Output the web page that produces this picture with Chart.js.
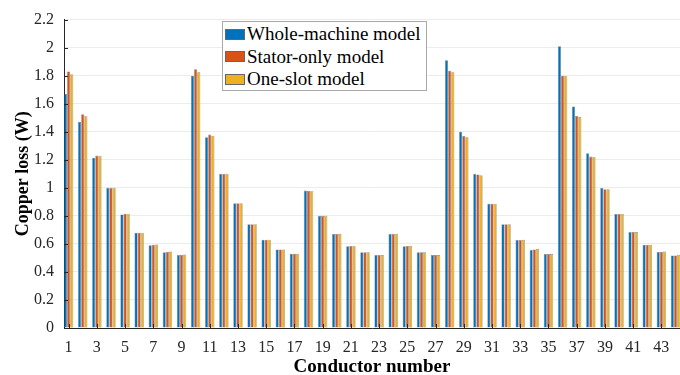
<!DOCTYPE html>
<html>
<head>
<meta charset="utf-8">
<script src="https://cdn.jsdelivr.net/npm/chart.js@4/dist/chart.umd.min.js"></script>
<style>
  html, body { margin: 0; padding: 0; background: #fff; overflow: hidden; }
  #wrap { position: relative; width: 680px; height: 375px; }
  #legend {
    position: absolute; left: 222px; top: 21px; width: 205px; height: 70px;
    border: 1px solid #a8a8a8; background: #fff; box-sizing: border-box;
    font-family: "Liberation Serif", "Times New Roman", serif; font-size: 19px; color: #000;
    padding: 1px 0 0 2px;
  }
  .item { display: flex; align-items: center; height: 22.5px; line-height: 22px; white-space: nowrap; }
  .patch { width: 20px; height: 11px; box-sizing: border-box; border: 1px solid #666; margin-right: 2px; flex: none; }
</style>
</head>
<body>
<div id="wrap">
  <canvas id="c" width="680" height="375"></canvas>
  <div id="legend"></div>
</div>
<script>
const conductors = [1,2,3,4,5,6,7,8,9,10,11,12,13,14,15,16,17,18,19,20,21,22,23,24,25,26,27,28,29,30,31,32,33,34,35,36,37,38,39,40,41,42,43,44];
const xTickLabels = [1,3,5,7,9,11,13,15,17,19,21,23,25,27,29,31,33,35,37,39,41,43];
const yTickLabels = [0,0.2,0.4,0.6,0.8,1,1.2,1.4,1.6,1.8,2,2.2];
const seriesNames = ["Whole-machine model", "Stator-only model", "One-slot model"];
const wholeMachine = [1.67,1.47,1.215,1.00,0.81,0.68,0.59,0.54,0.52, 1.80,1.36,1.10,0.89,0.74,0.63,0.56,0.53, 0.98,0.80,0.67,0.583,0.54,0.52,0.672,0.583,0.54,0.52, 1.91,1.40,1.10,0.887,0.74,0.628,0.558,0.527, 2.01,1.58,1.247,0.998,0.814,0.684,0.594,0.542,0.518];
const statorOnly   = [1.83,1.525,1.23,1.00,0.815,0.68,0.594,0.542,0.522, 1.845,1.38,1.10,0.89,0.74,0.63,0.56,0.53, 0.977,0.80,0.67,0.585,0.54,0.52,0.672,0.585,0.54,0.52, 1.836,1.37,1.095,0.887,0.74,0.628,0.56,0.527, 1.80,1.512,1.223,0.99,0.814,0.684,0.594,0.542,0.518];
const oneSlot      = [1.81,1.51,1.228,1.00,0.815,0.68,0.595,0.545,0.525, 1.824,1.37,1.10,0.89,0.74,0.63,0.56,0.53, 0.975,0.80,0.67,0.587,0.54,0.52,0.672,0.587,0.54,0.52, 1.824,1.36,1.09,0.886,0.74,0.629,0.565,0.527, 1.80,1.505,1.22,0.99,0.814,0.684,0.594,0.545,0.522];
const seriesColors = ["#0072BD", "#D95319", "#EDB120"];

const seriesValues = [wholeMachine, statorOnly, oneSlot];
const datasets = seriesValues.map((vals, i) => ({
  label: seriesNames[i],
  data: conductors.map((c, k) => ({ x: c, y: vals[k] })),
  backgroundColor: seriesColors[i],
  borderColor: "rgba(40,40,40,0.55)",
  borderWidth: 0.6,
  borderSkipped: false,
  categoryPercentage: 0.667,
  barPercentage: 1.0
}));

const serif = "'Liberation Serif', 'Times New Roman', serif";

// MATLAB-style inward tick marks drawn from the scales
const inwardTicks = {
  id: "inwardTicks",
  afterDatasetsDraw(chart) {
    const { ctx, chartArea, scales } = chart;
    ctx.save();
    ctx.strokeStyle = "#262626";
    ctx.lineWidth = 1;
    ctx.beginPath();
    scales.x.ticks.forEach(t => {
      const px = Math.round(scales.x.getPixelForValue(t.value)) + 0.5;
      ctx.moveTo(px, chartArea.bottom);
      ctx.lineTo(px, chartArea.bottom - 4);
    });
    scales.y.ticks.forEach(t => {
      const py = Math.round(scales.y.getPixelForValue(t.value)) + 0.5;
      ctx.moveTo(chartArea.left, py);
      ctx.lineTo(chartArea.left + 4, py);
    });
    ctx.stroke();
    ctx.restore();
  }
};

new Chart(document.getElementById("c"), {
  type: "bar",
  data: { datasets },
  plugins: [inwardTicks],
  options: {
    responsive: false,
    animation: false,
    events: [],
    layout: { padding: { top: 17, right: 0, left: 0, bottom: 0 } },
    plugins: { legend: { display: false }, tooltip: { enabled: false } },
    scales: {
      x: {
        type: "linear",
        offset: false,
        min: 0.674,
        max: 44.32,
        grid: { display: false, offset: false, drawTicks: false },
        border: { display: true, color: "#262626", width: 1 },
        afterBuildTicks: (s) => { s.ticks = xTickLabels.map(v => ({ value: v })); },
        afterFit: (s) => { s.height = 47; },
        ticks: {
          autoSkip: false, maxRotation: 0, padding: 10,
          color: "#262626",
          font: { family: serif, size: 16 },
          callback: (v) => String(v)
        },
        title: {
          display: true, text: "Conductor number", color: "#000",
          font: { family: serif, size: 19, weight: "bold", lineHeight: 1.0 },
          padding: { top: 0, bottom: -2 }
        }
      },
      y: {
        min: 0, max: 2.2,
        grid: { color: "#ececec", lineWidth: 1, drawTicks: false },
        border: { display: true, color: "#262626", width: 1 },
        afterBuildTicks: (s) => { s.ticks = yTickLabels.map(v => ({ value: v })); },
        afterFit: (s) => { s.width = 64; },
        ticks: {
          padding: 10, color: "#262626",
          font: { family: serif, size: 16 },
          callback: (v) => String(parseFloat(Number(v).toFixed(1)))
        },
        title: {
          display: true, text: "Copper loss (W)", color: "#000",
          font: { family: serif, size: 18, weight: "bold", lineHeight: 1.0 },
          padding: { top: 14, bottom: 0 }
        }
      }
    }
  }
});

const leg = document.getElementById("legend");
seriesNames.forEach((n, i) => {
  const d = document.createElement("div");
  d.className = "item";
  const p = document.createElement("span");
  p.className = "patch";
  p.style.background = seriesColors[i];
  const t = document.createElement("span");
  t.textContent = n;
  d.appendChild(p); d.appendChild(t);
  leg.appendChild(d);
});
</script>
</body>
</html>
